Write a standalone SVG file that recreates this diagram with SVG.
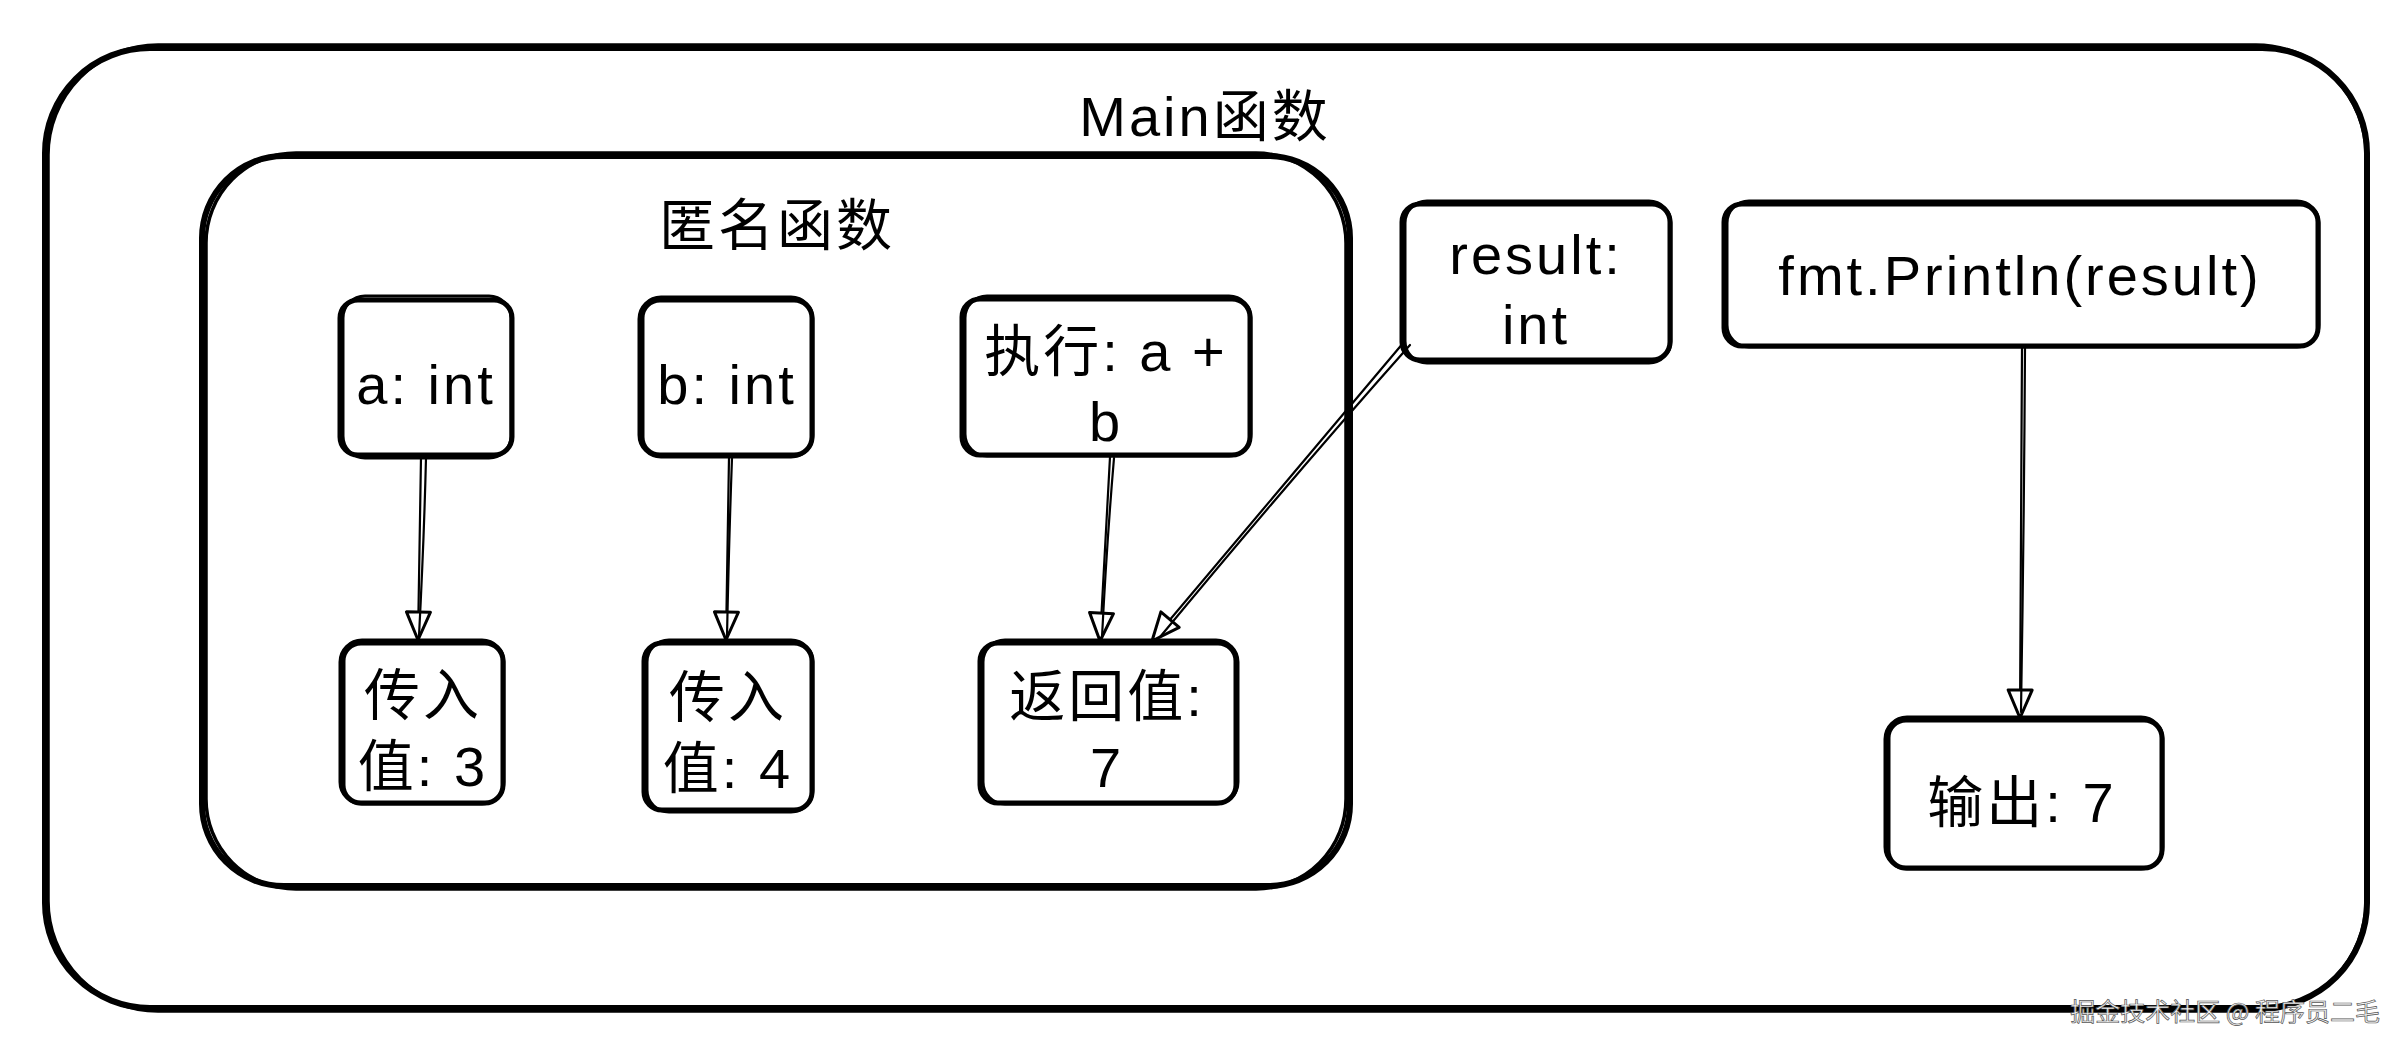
<svg xmlns="http://www.w3.org/2000/svg" width="2408" height="1052" viewBox="0 0 2408 1052">
<style>
.box{fill:none;stroke:#000;stroke-width:5;stroke-linecap:round;stroke-linejoin:round}
.box2{fill:none;stroke:#000;stroke-width:3;stroke-linecap:round;stroke-linejoin:round}
.cont{fill:none;stroke:#000;stroke-width:6;stroke-linecap:round}
.cont2{fill:none;stroke:#000;stroke-width:3.5;stroke-linecap:round}
.t{font-family:"Liberation Sans","Noto Sans CJK SC",sans-serif;font-size:56px;fill:#000;text-anchor:middle;letter-spacing:3px}
.ln{fill:none;stroke:#000;stroke-width:2.2;stroke-linecap:round}
.wm{font-family:"Noto Sans CJK SC",sans-serif;font-size:25px;fill:#f2f2f2;stroke:#555;stroke-width:0.7;text-anchor:end}
</style>
<defs>
<marker id="ah" markerUnits="userSpaceOnUse" markerWidth="34" markerHeight="34" viewBox="0 0 34 34" refX="31" refY="17" orient="auto">
<path d="M3,5 L31,17 L3,29 Z" fill="#fff" stroke="#000" stroke-width="3" stroke-linejoin="round"/>
</marker>
</defs>
<rect width="2408" height="1052" fill="#fff"/>

<g id="main">
<rect class="cont" x="45" y="48" width="2322" height="960" rx="105"/>
<rect class="cont2" x="48" y="45" width="2318" height="966" rx="110"/>
<text class="t" x="1205" y="136">Main函数</text>
</g>

<g id="anon">
<rect class="cont" x="202" y="156" width="1148" height="730" rx="82"/>
<rect class="cont2" x="206" y="153" width="1140" height="736" rx="90"/>
<text class="t" x="777" y="245">匿名函数</text>
</g>

<g id="node-a">
<rect class="box" x="340" y="300" width="172" height="155" rx="18"/>
<rect class="box2" x="343" y="296" width="168" height="162" rx="22"/>
<text class="t" x="426" y="404">a: int</text>
</g>

<g id="node-b">
<rect class="box" x="642" y="300" width="170" height="155" rx="18"/>
<rect class="box2" x="639" y="297" width="174" height="160" rx="22"/>
<text class="t" x="727" y="404">b: int</text>
</g>

<g id="node-exec">
<rect class="box" x="962" y="299" width="288" height="156" rx="18"/>
<rect class="box2" x="965" y="296" width="286" height="160" rx="22"/>
<text class="t" x="1106" y="371">执行: a +</text>
<text class="t" x="1106" y="441">b</text>
</g>

<g id="node-in3">
<rect class="box" x="343" y="643" width="160" height="160" rx="18"/>
<rect class="box2" x="340" y="640" width="164" height="164" rx="22"/>
<text class="t" x="423" y="715">传入</text>
<text class="t" x="423" y="786">值: 3</text>
</g>

<g id="node-in4">
<rect class="box" x="644" y="643" width="168" height="167" rx="18"/>
<rect class="box2" x="647" y="640" width="166" height="172" rx="22"/>
<text class="t" x="728" y="717">传入</text>
<text class="t" x="728" y="788">值: 4</text>
</g>

<g id="node-ret">
<rect class="box" x="980" y="643" width="256" height="160" rx="18"/>
<rect class="box2" x="983" y="640" width="255" height="164" rx="22"/>
<text class="t" x="1107" y="716">返回值:</text>
<text class="t" x="1107" y="787">7</text>
</g>

<g id="node-result">
<rect class="box" x="1402" y="204" width="268" height="156" rx="18"/>
<rect class="box2" x="1405" y="201" width="266" height="162" rx="22"/>
<text class="t" x="1536" y="274">result:</text>
<text class="t" x="1536" y="344">int</text>
</g>

<g id="node-print">
<rect class="box" x="1724" y="204" width="594" height="142" rx="18"/>
<rect class="box2" x="1727" y="201" width="592" height="146" rx="22"/>
<text class="t" x="2020" y="295">fmt.Println(result)</text>
</g>

<g id="node-out">
<rect class="box" x="1888" y="720" width="274" height="148" rx="18"/>
<rect class="box2" x="1885" y="717" width="278" height="152" rx="22"/>
<text class="t" x="2022" y="822">输出: 7</text>
</g>

<g id="connectors">
<path class="ln" d="M421,457 L418,640" marker-end="url(#ah)"/>
<path class="ln" d="M426,458 Q424,540 419,636"/>
<path class="ln" d="M729,457 L726,640" marker-end="url(#ah)"/>
<path class="ln" d="M732,458 Q729,540 727,636"/>
<path class="ln" d="M1110,457 L1100,641" marker-end="url(#ah)"/>
<path class="ln" d="M1114,458 Q1107,540 1102,637"/>
<path class="ln" d="M1404,342 L1152,641" marker-end="url(#ah)"/>
<path class="ln" d="M1410,345 Q1290,480 1160,637"/>
<path class="ln" d="M2022,347 L2020,718" marker-end="url(#ah)"/>
<path class="ln" d="M2025,348 Q2024,530 2021,712"/>
</g>

<text class="wm" x="2380" y="1021">掘金技术社区 @ 程序员二毛</text>
</svg>
